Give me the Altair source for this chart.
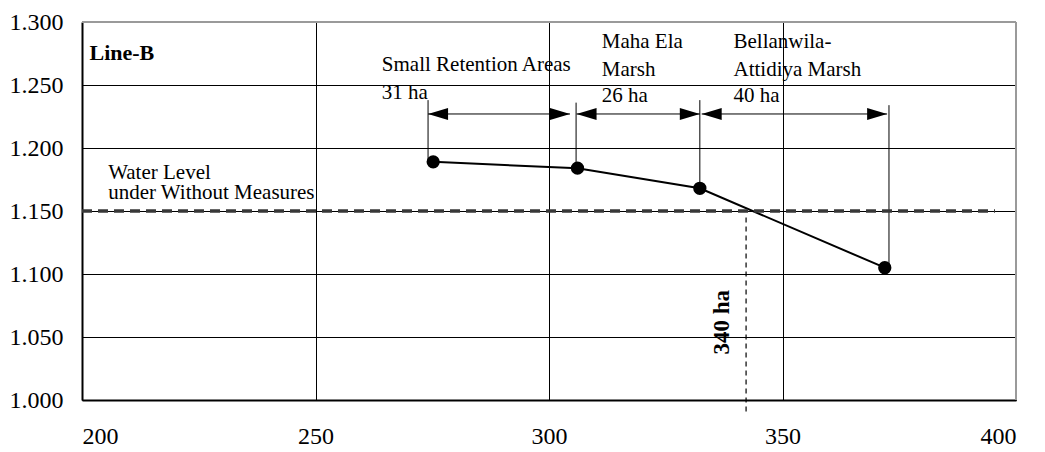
import altair as alt
import pandas as pd

# --- data ---
area_ha = [275.2, 306.1, 332.3, 371.9]
water_level = [1.189, 1.184, 1.168, 1.105]

leader_x = [274.1, 305.8, 332.3, 372.8]
leader_top = [1.238, 1.236, 1.238, 1.234]

arrow_start = [274.1, 305.9, 332.7]
arrow_end = [304.5, 332.3, 372.4]
arrow_level = [1.227, 1.227, 1.227]

without_level = 1.15
without_x = [200, 395.5]
threshold_area = 342.2
threshold_y = [1.1448, 0.9888]

x_ticks = [200, 250, 300, 350, 400]
y_ticks = [1.0, 1.05, 1.1, 1.15, 1.2, 1.25, 1.3]

label_text = ["Water Level", "under Without Measures",
              "Small Retention Areas", "31 ha",
              "Maha Ela", "Marsh", "26 ha",
              "Bellanwila-", "Attidiya Marsh", "40 ha"]
label_x = [205.6, 205.6, 264.2, 264.2, 311.3, 311.3, 311.3, 339.5, 339.5, 339.5]
label_y = [1.1757, 1.1596, 1.2612, 1.2388, 1.2797, 1.2572, 1.2364, 1.2797, 1.2572, 1.2364]

FONT = "Liberation Serif"

pts = pd.DataFrame({"x": area_ha, "y": water_level})
leaders = pd.DataFrame({"x": leader_x, "y": leader_top, "y2": water_level})
arrows = pd.DataFrame({"x": arrow_start, "x2": arrow_end, "y": arrow_level})
labels = pd.DataFrame({"t": label_text, "x": label_x, "y": label_y})

xs = alt.Scale(domain=[200, 400], nice=False, zero=False)
ys = alt.Scale(domain=[1.0, 1.3], nice=False, zero=False)

X = lambda f: alt.X(f, type="quantitative", scale=xs,
                    axis=alt.Axis(values=x_ticks, format="d", title=None, labelPadding=24))
Y = lambda f: alt.Y(f, type="quantitative", scale=ys,
                    axis=alt.Axis(values=y_ticks, format=".3f", title=None, labelPadding=19))

line = alt.Chart(pts).mark_line(color="black", strokeWidth=2).encode(x=X("x"), y=Y("y"))
dots = alt.Chart(pts).mark_circle(color="black", size=177, opacity=1).encode(x="x:Q", y="y:Q")
lead = alt.Chart(leaders).mark_rule(color="black", strokeWidth=1).encode(x="x:Q", y="y:Q", y2="y2:Q")
shaft = alt.Chart(arrows).mark_rule(color="black", strokeWidth=1).encode(x="x:Q", x2="x2:Q", y="y:Q")
head_l = alt.Chart(arrows).mark_point(shape="M0,0L1,-0.3L1,0.3Z", size=1600, filled=True,
                                      color="black", opacity=1).encode(x="x:Q", y="y:Q")
head_r = alt.Chart(arrows).mark_point(shape="M0,0L-1,-0.3L-1,0.3Z", size=1600, filled=True,
                                      color="black", opacity=1).encode(x="x2:Q", y="y:Q")

hdash = alt.Chart(pd.DataFrame({"x": [without_x[0]], "x2": [without_x[1]], "y": [without_level]})).mark_rule(
    color="#383838", strokeWidth=3.5, strokeDash=[10, 6]).encode(x="x:Q", x2="x2:Q", y="y:Q")
vdash = alt.Chart(pd.DataFrame({"x": [threshold_area], "y": [threshold_y[0]], "y2": [threshold_y[1]]})).mark_rule(
    color="black", strokeWidth=1.2, strokeDash=[5, 4]).encode(x="x:Q", y="y:Q", y2="y2:Q")

txt = alt.Chart(labels).mark_text(font=FONT, fontSize=21, align="left", baseline="alphabetic",
                                  color="black").encode(x="x:Q", y="y:Q", text="t:N")
title_txt = alt.Chart(pd.DataFrame({"t": ["Line-B"], "x": [201.6], "y": [1.27]})).mark_text(
    font=FONT, fontSize=22, fontWeight="bold", align="left", baseline="alphabetic", color="black"
).encode(x="x:Q", y="y:Q", text="t:N")
ha_txt = alt.Chart(pd.DataFrame({"t": ["340 ha"], "x": [337.0], "y": [1.0617]})).mark_text(
    font=FONT, fontSize=23, fontWeight="bold", align="center", baseline="middle", angle=270, color="black"
).encode(x="x:Q", y="y:Q", text="t:N")

border_top = alt.Chart(pd.DataFrame({"x": [200], "x2": [400], "y": [1.3]})).mark_rule(
    color="#9a9a9a", strokeWidth=2).encode(x="x:Q", x2="x2:Q", y="y:Q")
border_right = alt.Chart(pd.DataFrame({"x": [400], "y": [1.0], "y2": [1.3]})).mark_rule(
    color="#9a9a9a", strokeWidth=2).encode(x="x:Q", y="y:Q", y2="y2:Q")

chart = alt.layer(
    line, lead, shaft, head_l, head_r, hdash, vdash, dots, txt, title_txt, ha_txt, border_top, border_right
).properties(
    width=934, height=378,
    autosize=alt.AutoSizeParams(type="none"),
    padding={"left": 74, "top": 14, "right": 21, "bottom": 52},
    background="white",
).configure_view(stroke=None).configure_axis(
    grid=True, gridColor="black", gridWidth=1, gridOpacity=1,
    domainColor="black", domainWidth=2, ticks=False,
    labelFont=FONT, labelFontSize=24, labelColor="black",
)

chart.save("out.html", embed_options={"renderer": "svg", "actions": False})
